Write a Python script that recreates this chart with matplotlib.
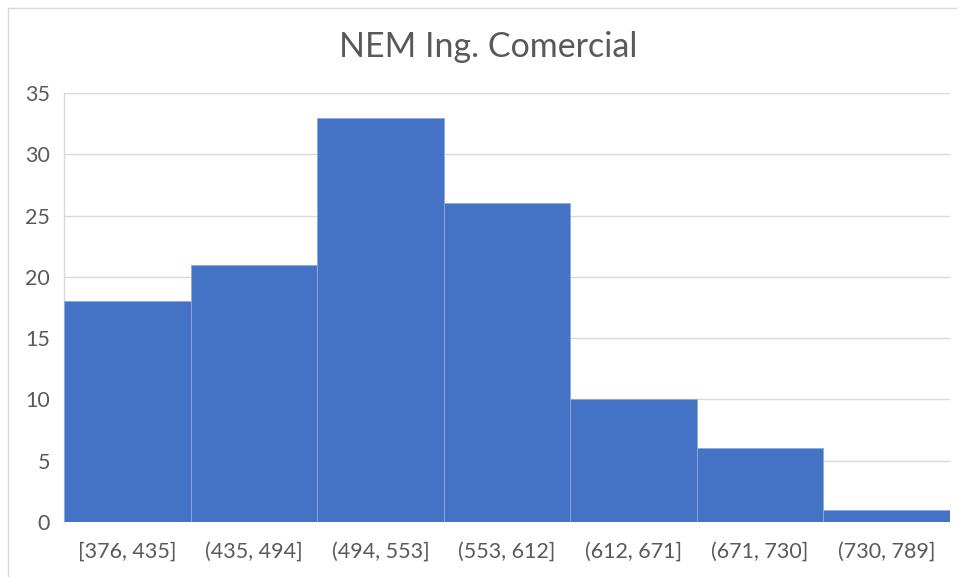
import matplotlib
matplotlib.use('Agg')
import matplotlib.pyplot as plt
from matplotlib.lines import Line2D

plt.rcParams['font.family'] = ['Lato', 'DejaVu Sans']

# bins and counts of the histogram
bins = ['[376, 435]', '(435, 494]', '(494, 553]', '(553, 612]',
        '(612, 671]', '(671, 730]', '(730, 789]']
counts = [18, 21, 33, 26, 10, 6, 1]
yticks = [0, 5, 10, 15, 20, 25, 30, 35]

W, H = 957, 577
fig = plt.figure(figsize=(W / 100, H / 100), dpi=100)
ax = fig.add_axes([64 / W, 1 - 522 / H, (950 - 64) / W, (522 - 93) / H])

x = range(len(bins))
ax.bar(x, counts, width=1.0, color='#4472C4', edgecolor='#8FAADC',
       linewidth=0.6, zorder=3)

ax.set_xlim(-0.5, len(bins) - 0.5)
ax.set_ylim(0, 35)
ax.set_yticks(yticks)
ax.set_xticks(list(x))
ax.set_xticklabels(bins)
ax.grid(axis='y', color='#D9D9D9', linewidth=1.0, zorder=0)
ax.tick_params(length=0, labelsize=15.5, colors='#595959', pad=14)
ax.tick_params(axis='y', pad=10)
for s in ['top', 'right', 'bottom']:
    ax.spines[s].set_visible(False)
ax.spines['left'].set_color('#D9D9D9')
ax.spines['left'].set_linewidth(1.0)

fig.text(488 / W, 1 - 47 / H, 'NEM Ing. Comercial',
         ha='center', va='center', fontsize=24.5, color='#595959')

# chart area border
fig.add_artist(Line2D([8 / W, 8 / W], [0, 1 - 8 / H], transform=fig.transFigure,
                      color='#D9D9D9', linewidth=1.0))
fig.add_artist(Line2D([8 / W, 1], [1 - 8 / H, 1 - 8 / H], transform=fig.transFigure,
                      color='#D9D9D9', linewidth=1.0))

fig.savefig('out.png', dpi=100, facecolor='white')
